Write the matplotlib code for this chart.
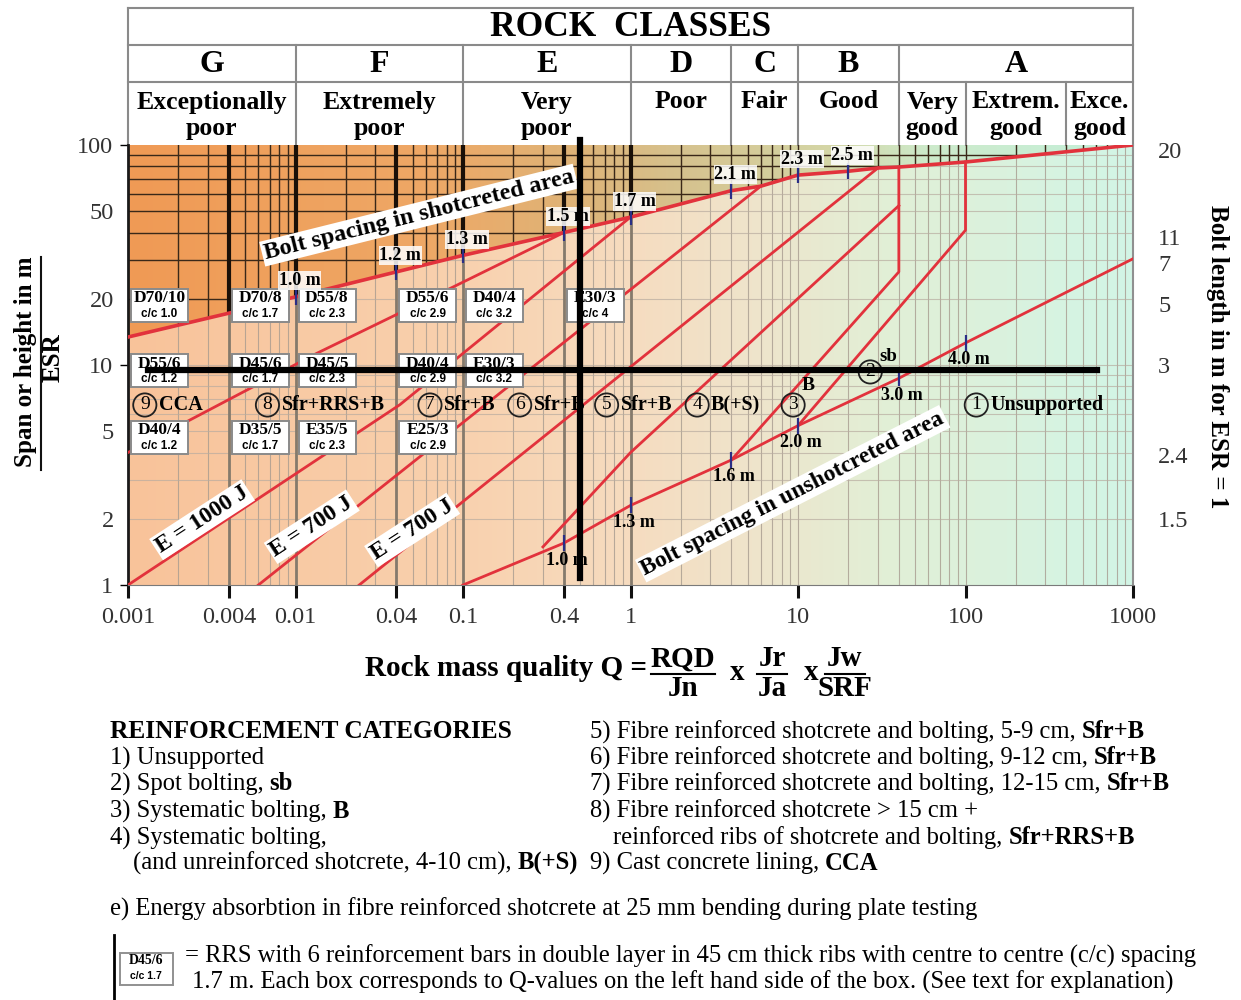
import numpy as np
import matplotlib
matplotlib.use("Agg")
import matplotlib.pyplot as plt
from matplotlib.patches import Polygon, Rectangle
from matplotlib.lines import Line2D
from matplotlib.colors import LinearSegmentedColormap
from matplotlib.ticker import NullLocator

plt.rcParams['font.family'] = ['Liberation Serif', 'DejaVu Serif']

W, H = 1241, 1000

# ---- rock classes (header table) ----
class_edges = [0.001, 0.01, 0.1, 1, 4, 10, 40, 1000]
class_letters = ["G", "F", "E", "D", "C", "B", "A"]
class_names = ["Exceptionally\npoor", "Extremely\npoor", "Very\npoor", "Poor", "Fair", "Good"]
a_edges = [40, 100, 400, 1000]
a_names = ["Very\ngood", "Extrem.\ngood", "Exce.\ngood"]

# ---- curves: Q vs span/ESR ----
top_q = [0.001, 0.004, 0.01, 0.04, 0.1, 0.4, 1, 4, 6, 10, 20, 30, 40, 100, 1000]
top_s = [13.4, 17.2, 20.4, 26.5, 31.5, 40, 47, 62, 65, 73, 76, 78.6, 79.4, 83.7, 100]
bolt_q = [0.1, 0.4, 1, 4, 10, 40, 100, 1000]
bolt_s = [1.0, 1.55, 2.3, 3.7, 5.3, 8.7, 12.6, 30.4]
b98_q = [0.001, 0.0134, 0.087, 0.4]
b98_s = [4.0, 11.3, 22.6, 40]
b87_q = [0.001, 0.042, 1]
b87_s = [1.0, 6.6, 47]
b76_q = [0.006, 0.136, 6]
b76_s = [1.0, 6.6, 65]
b65_q = [0.024, 30]
b65_s = [1.0, 78.6]
b54_q = [0.3, 1, 40]
b54_s = [1.49, 4.0, 53]
b43_q = [4, 40, 40]
b43_s = [3.7, 26.5, 79.4]
b32_q = [10, 100, 100]
b32_s = [5.3, 41, 83.7]

# bolt spacing marks
shot_q = [0.01, 0.04, 0.1, 0.4, 1, 4, 10, 20]
shot_lbl = ["1.0 m", "1.2 m", "1.3 m", "1.5 m", "1.7 m", "2.1 m", "2.3 m", "2.5 m"]
unshot_q = [0.4, 1, 4, 10, 40, 100]
unshot_lbl = ["1.0 m", "1.3 m", "1.6 m", "2.0 m", "3.0 m", "4.0 m"]

# reinforcement categories in the chart
cat_num = ["9", "8", "7", "6", "5", "4", "3", "2", "1"]
cat_code = ["CCA", "Sfr+RRS+B", "Sfr+B", "Sfr+B", "Sfr+B", "B(+S)", "", "", "Unsupported"]
cat_q = [0.00126, 0.0068, 0.0635, 0.218, 0.72, 2.5, 9.35, 27, 116]
cat_s = [6.58, 6.58, 6.58, 6.58, 6.58, 6.58, 6.58, 9.3, 6.58]

# RRS boxes (left edge = Q value)
box_q1 = [0.001, 0.004, 0.01, 0.04, 0.1, 0.4]
box_t1 = ["D70/10", "D70/8", "D55/8", "D55/6", "D40/4", "E30/3"]
box_c1 = ["c/c 1.0", "c/c 1.7", "c/c 2.3", "c/c 2.9", "c/c 3.2", "c/c 4"]
box_q2 = [0.001, 0.004, 0.01, 0.04, 0.1]
box_t2 = ["D55/6", "D45/6", "D45/5", "D40/4", "E30/3"]
box_c2 = ["c/c 1.2", "c/c 1.7", "c/c 2.3", "c/c 2.9", "c/c 3.2"]
box_q3 = [0.001, 0.004, 0.01, 0.04]
box_t3 = ["D40/4", "D35/5", "E35/5", "E25/3"]
box_c3 = ["c/c 1.2", "c/c 1.7", "c/c 2.3", "c/c 2.9"]
box_rows = [(box_q1, box_t1, box_c1, 18.7), (box_q2, box_t2, box_c2, 9.4), (box_q3, box_t3, box_c3, 4.7)]

xtick_q = [0.001, 0.004, 0.01, 0.04, 0.1, 0.4, 1, 10, 100, 1000]
xtick_lbl = ["0.001", "0.004", "0.01", "0.04", "0.1", "0.4", "1", "10", "100", "1000"]
right_s = [95, 38, 29, 19, 10, 3.9, 2.0]
right_lbl = ["20", "11", "7", "5", "3", "2.4", "1.5"]
thick_q = [0.004, 0.01, 0.04, 0.1, 0.4, 1]

cross_q, cross_s = 0.5, 9.5

red = '#e2323c'


def fx(px):
    return px / W


def fy(py):
    return 1 - py / H


fig = plt.figure(figsize=(W / 100, H / 100), dpi=100)
fig.patch.set_facecolor('white')

L, R, T, B = 128, 1133, 145, 585
rect = [fx(L), fy(B), (R - L) / W, (B - T) / H]

# background gradients (linear axes in log space)
bax = fig.add_axes(rect, zorder=0)
bax.set_xlim(0, 1)
bax.set_ylim(0, 1)
bax.axis('off')
uu = np.linspace(0, 1, 600)[None, :]
cm_low = LinearSegmentedColormap.from_list('low', [
    (0.0, '#f8c39a'), (0.33, '#f9d1ae'), (0.5, '#f6dcc0'), (0.62, '#efe4cb'),
    (0.75, '#e2efd6'), (1.0, '#d2f5e6')])
cm_up = LinearSegmentedColormap.from_list('up', [
    (0.0, '#f09a55'), (0.3, '#eea866'), (0.45, '#deb478'), (0.55, '#d6c28e'),
    (0.7, '#d4d6a6'), (0.8, '#cdeacb'), (1.0, '#c4f0da')])
bax.imshow(uu, cmap=cm_low, extent=(0, 1, 0, 1), aspect='auto', vmin=0, vmax=1)
tu = (np.log10(top_q) + 3) / 6
tv = np.log10(top_s) / 2
up_poly = Polygon(list(zip(tu, tv)) + [(1, 1), (0, 1)], closed=True, transform=bax.transData)
im = bax.imshow(uu, cmap=cm_up, extent=(0, 1, 0, 1), aspect='auto', vmin=0, vmax=1)
im.set_clip_path(up_poly)

ax = fig.add_axes(rect, zorder=1)
ax.patch.set_visible(False)
ax.set_xscale('log')
ax.set_yscale('log')
ax.set_xlim(0.001, 1000)
ax.set_ylim(1, 100)

up_clip = Polygon(list(zip(top_q, top_s)) + [(1000, 100), (0.001, 100)], closed=True,
                  transform=ax.transData)
grid_q = [k * 10.0 ** n for n in range(-3, 3) for k in range(1, 10)][1:]
grid_s = [k * 10.0 ** n for n in range(0, 2) for k in range(1, 10)][1:]
for q in grid_q:
    ax.axvline(q, color='#a89c90', lw=0.8, alpha=0.8, zorder=1)
    ln = ax.axvline(q, color='#3a2818', lw=1.0, zorder=1.1)
    ln.set_clip_path(up_clip)
for s in grid_s:
    ax.axhline(s, color='#b8aca0', lw=0.8, alpha=0.7, zorder=1)
    ln = ax.axhline(s, color='#3a2818', lw=1.0, zorder=1.1)
    ln.set_clip_path(up_clip)
for q in thick_q:
    ax.axvline(q, color='#857a6c', lw=2.0, zorder=1.2)
    ln = ax.axvline(q, color='#1a1008', lw=3.0, zorder=1.3)
    ln.set_clip_path(up_clip)

for qs, ss in [(bolt_q, bolt_s), (b98_q, b98_s), (b87_q, b87_s), (b76_q, b76_s),
               (b65_q, b65_s), (b54_q, b54_s), (b43_q, b43_s), (b32_q, b32_s)]:
    ax.plot(qs, ss, color=red, lw=2.0, zorder=3)
ax.plot(top_q, top_s, color=red, lw=2.6, zorder=3)

# bolt spacing marks and labels
lq_top, ls_top = np.log10(top_q), np.log10(top_s)
lq_b, ls_b = np.log10(bolt_q), np.log10(bolt_s)
for q, lbl in zip(shot_q, shot_lbl):
    s = 10 ** np.interp(np.log10(q), lq_top, ls_top)
    ax.plot([q], [s], marker='|', ms=11, mew=1.6, color='#2a2e86', zorder=4)
    ax.annotate(lbl, (q, s), xytext=(4, 16), textcoords='offset pixels', ha='center', va='center',
                fontsize=13, fontweight='bold', zorder=6,
                bbox=dict(fc='white', ec='none', pad=0.6, alpha=0.85))
for q, lbl in zip(unshot_q, unshot_lbl):
    s = 10 ** np.interp(np.log10(q), lq_b, ls_b)
    ax.plot([q], [s], marker='|', ms=11, mew=1.6, color='#2a2e86', zorder=4)
    ax.annotate(lbl, (q, s), xytext=(3, -17), textcoords='offset pixels', ha='center', va='center',
                fontsize=13, fontweight='bold', zorder=6)

# RRS boxes
for qs, ts, cs, sc in box_rows:
    for q, t, c in zip(qs, ts, cs):
        x0 = q * 10 ** (3 / 167.5)
        x1 = x0 * 10 ** (57 / 167.5)
        y0 = sc * 10 ** (-16.5 / 220)
        y1 = sc * 10 ** (16.5 / 220)
        ax.add_patch(Rectangle((x0, y0), x1 - x0, y1 - y0, fc='white', ec='#8a8a8a', lw=1.4, zorder=5))
        xm = np.sqrt(x0 * x1)
        ax.text(xm, sc * 10 ** (7 / 220), t, ha='center', va='center', fontsize=12.5,
                fontweight='bold', zorder=6)
        ax.text(xm, sc * 10 ** (-8.5 / 220), c, ha='center', va='center', fontsize=8.5,
                fontweight='bold', family='Liberation Sans', zorder=6)

# category labels
for n, c, q, s in zip(cat_num, cat_code, cat_q, cat_s):
    ax.text(q, s, n, ha='center', va='center', fontsize=14, zorder=6,
            bbox=dict(boxstyle='circle,pad=0.16', fc='none', ec='#202020', lw=1.3))
    if c:
        ax.annotate(c, (q, s), xytext=(14, 0), textcoords='offset pixels', ha='left', va='center',
                    fontsize=14.5, fontweight='bold', zorder=6)
ax.text(11.5, 8.1, "B", ha='center', va='center', fontsize=14, fontweight='bold', zorder=6)
ax.text(34.4, 10.9, "sb", ha='center', va='center', fontsize=13.5, fontweight='bold', zorder=6)

# rotated annotations
wbox = dict(fc='white', ec='none', pad=1.5)
ax.text(0.0546, 48, "Bolt spacing in shotcreted area", rotation=14, ha='center', va='center',
        fontsize=17.5, fontweight='bold', rotation_mode='anchor', bbox=wbox, zorder=6)
ax.text(9.3, 2.6, "Bolt spacing in unshotcreted area", rotation=27, ha='center', va='center',
        fontsize=17, fontweight='bold', rotation_mode='anchor', bbox=wbox, zorder=6)
ax.text(0.00277, 1.98, "E = 1000 J", rotation=33, ha='center', va='center', fontsize=17,
        fontweight='bold', rotation_mode='anchor', bbox=wbox, zorder=6)
ax.text(0.0125, 1.84, "E = 700 J", rotation=33, ha='center', va='center', fontsize=17,
        fontweight='bold', rotation_mode='anchor', bbox=wbox, zorder=6)
ax.text(0.0497, 1.78, "E = 700 J", rotation=33, ha='center', va='center', fontsize=17,
        fontweight='bold', rotation_mode='anchor', bbox=wbox, zorder=6)

# crosshair marks
ax.plot([cross_q, cross_q], [1.08, 105], color='black', lw=4.5, zorder=10, clip_on=False)
ax.plot([0.00132, 610], [cross_s, cross_s], color='black', lw=4.5, zorder=10, clip_on=False)

# axes, ticks
ax.spines['top'].set_visible(False)
ax.spines['left'].set_color('#1a1a1a')
ax.spines['left'].set_linewidth(2)
ax.spines['bottom'].set_color('#7a7a7a')
ax.spines['right'].set_color('#909090')
ax.spines['right'].set_linewidth(1.5)
ax.set_xticks(xtick_q)
ax.set_xticklabels(xtick_lbl)
ax.xaxis.set_minor_locator(NullLocator())
ax.tick_params(axis='x', direction='out', length=9, width=2.2, color='#111111',
               labelsize=17.5, pad=7, labelcolor='#333333')
ax.set_yticks([1, 10, 100])
ax.set_yticklabels(['1', '10', '100'])
ax.set_yticks([2, 5, 20, 50], minor=True)
ax.set_yticklabels(['2', '5', '20', '50'], minor=True)
ax.tick_params(axis='y', which='major', direction='out', length=6, width=1, labelsize=17.5,
               pad=5, labelcolor='#333333')
ax.tick_params(axis='y', which='minor', length=0, labelsize=17.5, pad=10, labelcolor='#333333')

ax2 = ax.twinx()
ax2.set_yscale('log')
ax2.set_ylim(1, 100)
ax2.set_yticks(right_s)
ax2.set_yticklabels(right_lbl)
ax2.yaxis.set_minor_locator(NullLocator())
ax2.tick_params(axis='y', length=0, pad=18, labelsize=17.5, labelcolor='#333333')
for sp in ax2.spines.values():
    sp.set_visible(False)

# header table
hax = fig.add_axes([fx(L), fy(T), (R - L) / W, (T - 8) / H], zorder=0.5)
hax.set_xscale('log')
hax.set_xlim(0.001, 1000)
hax.set_ylim(T, 8)
hax.axis('off')
gk = dict(color='#8a8a8a', lw=1.5, clip_on=False)
for yy in [8, 45, 82]:
    hax.plot([0.001, 1000], [yy, yy], **gk)
for q in [0.001, 1000]:
    hax.plot([q, q], [8, T], **gk)
for q in class_edges[1:-1]:
    hax.plot([q, q], [45, T], **gk)
for q in a_edges[1:-1]:
    hax.plot([q, q], [82, T], **gk)
hax.text(1, 27, "ROCK  CLASSES", ha='center', va='center', fontsize=25.5, fontweight='bold')
for i, letter in enumerate(class_letters):
    xm = np.sqrt(class_edges[i] * class_edges[i + 1])
    hax.text(xm, 64, letter, ha='center', va='center', fontsize=23, fontweight='bold')
names = class_names + a_names
centers = [np.sqrt(class_edges[i] * class_edges[i + 1]) for i in range(6)] + \
          [np.sqrt(a_edges[i] * a_edges[i + 1]) for i in range(3)]
for xm, nm in zip(centers, names):
    for j, line in enumerate(nm.split("\n")):
        hax.text(xm, 102 + 26 * j, line, ha='center', va='center', fontsize=18.5, fontweight='bold')

# axis titles
fig.text(fx(26), fy(362), "Span or height in m", rotation=90, ha='center', va='center',
         fontsize=18, fontweight='bold')
fig.text(fx(53), fy(358), "ESR", rotation=90, ha='center', va='center', fontsize=18, fontweight='bold')
fig.add_artist(Line2D([fx(41), fx(41)], [fy(257), fy(470)], color='#111111', lw=1.5))
fig.text(fx(1217), fy(357), "Bolt length in m for ESR = 1", rotation=-90, ha='center', va='center',
         fontsize=18, fontweight='bold')

bk = dict(ha='center', va='center', fontsize=21, fontweight='bold')
fig.text(fx(647), fy(668), "Rock mass quality Q =", ha='right', va='center', fontsize=21,
         fontweight='bold')
for xc, num, den, half in [(683, "RQD", "Jn", 32), (772, "Jr", "Ja", 15), (845, "Jw", "SRF", 20)]:
    fig.text(fx(xc), fy(659), num, **bk)
    fig.text(fx(xc), fy(689), den, **bk)
    fig.add_artist(Line2D([fx(xc - half), fx(xc + half)], [fy(674), fy(674)], color='k', lw=1.5))
fig.text(fx(737), fy(673), "x", **bk)
fig.text(fx(811), fy(673), "x", **bk)

# legend text
renderer = fig.canvas.get_renderer()


def rich(px, py, parts, size=17.7):
    x = px
    for s, bold in parts:
        t = fig.text(fx(x), fy(py), s, fontsize=size, fontweight='bold' if bold else 'normal',
                     ha='left', va='center')
        x += t.get_window_extent(renderer).width


legend_left = [
    (110, [("1) Unsupported", False)]),
    (110, [("2) Spot bolting, ", False), ("sb", True)]),
    (110, [("3) Systematic bolting, ", False), ("B", True)]),
    (110, [("4) Systematic bolting,", False)]),
    (133, [("(and unreinforced shotcrete, 4-10 cm), ", False), ("B(+S)", True)]),
]
legend_right = [
    (590, [("5) Fibre reinforced shotcrete and bolting, 5-9 cm, ", False), ("Sfr+B", True)]),
    (590, [("6) Fibre reinforced shotcrete and bolting, 9-12 cm, ", False), ("Sfr+B", True)]),
    (590, [("7) Fibre reinforced shotcrete and bolting, 12-15 cm, ", False), ("Sfr+B", True)]),
    (590, [("8) Fibre reinforced shotcrete > 15 cm +", False)]),
    (613, [("reinforced ribs of shotcrete and bolting, ", False), ("Sfr+RRS+B", True)]),
    (590, [("9) Cast concrete lining, ", False), ("CCA", True)]),
]
rows_y = [732, 758, 784, 811, 838, 863]
rich(110, rows_y[0], [("REINFORCEMENT CATEGORIES", True)], size=18.3)
for (x0, parts), yy in zip(legend_left, rows_y[1:]):
    rich(x0, yy, parts)
for (x0, parts), yy in zip(legend_right, rows_y):
    rich(x0, yy, parts)
rich(110, 909, [("e) Energy absorbtion in fibre reinforced shotcrete at 25 mm bending during plate testing", False)])

fig.add_artist(Line2D([fx(114), fx(114)], [fy(935), fy(1000)], color='k', lw=2))
fig.add_artist(Rectangle((fx(120), fy(985)), 53 / W, 32 / H, transform=fig.transFigure,
                         fc='white', ec='#909090', lw=1.4))
fig.text(fx(146), fy(961), "D45/6", ha='center', va='center', fontsize=10, fontweight='bold')
fig.text(fx(146), fy(976), "c/c 1.7", ha='center', va='center', fontsize=7.5, fontweight='bold',
         family='Liberation Sans')
rich(185, 956, [("= RRS with 6 reinforcement bars in double layer in 45 cm thick ribs with centre to centre (c/c) spacing", False)])
rich(192, 982, [("1.7 m. Each box corresponds to Q-values on the left hand side of the box. (See text for explanation)", False)])

fig.savefig("out.png", dpi=100, facecolor='white')
